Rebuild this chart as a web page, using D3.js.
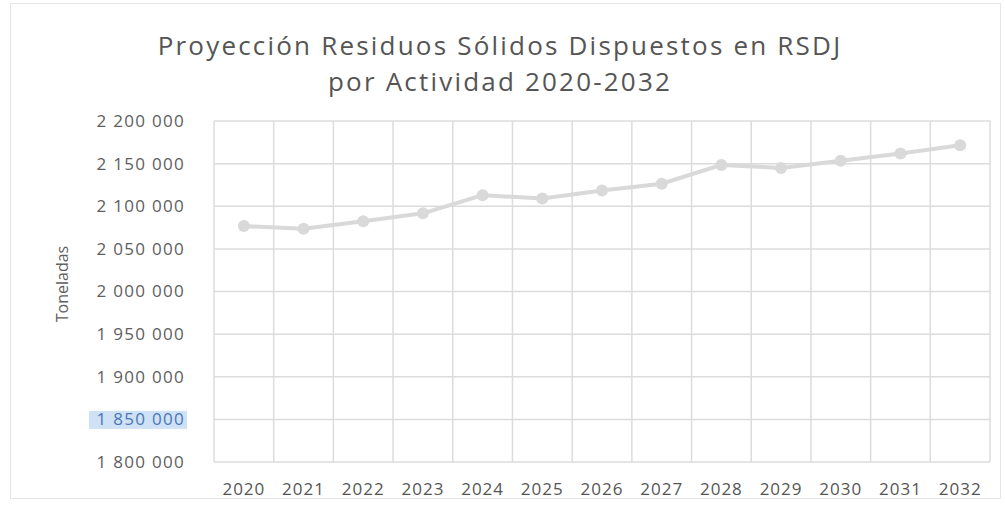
<!DOCTYPE html>
<html>
<head>
<meta charset="utf-8">
<script src="https://cdn.jsdelivr.net/npm/d3@7"></script>
<style>
  body { margin: 0; background: #fff; }
  svg text { font-family: "Open Sans", sans-serif; }
</style>
</head>
<body>
<svg id="chart" width="1005" height="508"></svg>
<script>
const years = ['2020', '2021', '2022', '2023', '2024', '2025', '2026', '2027', '2028', '2029', '2030', '2031', '2032'];
const tonnes = [2076700, 2073500, 2082300, 2091700, 2113000, 2109000, 2118400, 2126400, 2148500, 2144900, 2153500, 2161800, 2171600];
const yTicks = [1800000, 1850000, 1900000, 1950000, 2000000, 2050000, 2100000, 2150000, 2200000];
const titleLines = ['Proyección Residuos Sólidos Dispuestos en RSDJ', 'por Actividad 2020-2032'];
const highlightedTick = 1850000;

const svg = d3.select('#chart');
const margin = { top: 121, right: 15, bottom: 46, left: 214 };
const width = 1005, height = 508;

const x = d3.scaleBand().domain(years).range([margin.left, width - margin.right]);
const y = d3.scaleLinear().domain([1800000, 2200000]).range([height - margin.bottom, margin.top]);

const fmt = v => d3.format(',')(v).replace(/,/g, ' ');

// outer frame
svg.append('rect')
  .attr('x', 10.5).attr('y', 3.5)
  .attr('width', 990).attr('height', 495)
  .attr('fill', 'none')
  .attr('stroke', '#e6e6e6');

// title
svg.append('g').selectAll('text')
  .data(titleLines)
  .join('text')
  .attr('x', 500)
  .attr('y', (d, i) => 55 + i * 35.5)
  .attr('text-anchor', 'middle')
  .attr('font-size', 26)
  .attr('letter-spacing', 2.2)
  .attr('fill', '#555')
  .text(d => d);

// horizontal grid
svg.append('g').selectAll('line')
  .data(yTicks)
  .join('line')
  .attr('x1', margin.left).attr('x2', width - margin.right)
  .attr('y1', d => y(d)).attr('y2', d => y(d))
  .attr('stroke', '#dcdcdc').attr('stroke-width', 1.5);

// vertical grid at category boundaries
const bounds = years.map(d => x(d)).concat([x.range()[1]]);
svg.append('g').selectAll('line')
  .data(bounds)
  .join('line')
  .attr('x1', d => d).attr('x2', d => d)
  .attr('y1', y(2200000)).attr('y2', y(1800000))
  .attr('stroke', '#dcdcdc').attr('stroke-width', 1.5);

// y tick labels
const yAxis = svg.append('g').attr('transform', `translate(${margin.left - 29},0)`)
  .call(d3.axisLeft(y).tickValues(yTicks).tickFormat(fmt).tickSize(0).tickPadding(0));
yAxis.select('.domain').remove();
yAxis.selectAll('.tick')
  .filter(d => d === highlightedTick)
  .insert('rect', 'text')
  .attr('x', -96).attr('y', -9)
  .attr('width', 98).attr('height', 18)
  .attr('fill', '#cfe1f5');
yAxis.selectAll('text')
  .attr('font-size', 17)
  .attr('letter-spacing', 1.3)
  .attr('font-family', '"Open Sans", sans-serif')
  .attr('fill', d => d === highlightedTick ? '#4a78b5' : '#5e5e5e');

// x tick labels
const xAxis = svg.append('g').attr('transform', `translate(0,${height - margin.bottom})`)
  .call(d3.axisBottom(x).tickSize(0).tickPadding(21));
xAxis.select('.domain').remove();
xAxis.selectAll('text')
  .attr('font-size', 17)
  .attr('letter-spacing', 1)
  .attr('font-family', '"Open Sans", sans-serif')
  .attr('fill', '#555');

// y axis title
svg.append('text')
  .attr('transform', 'translate(68,284) rotate(-90)')
  .attr('text-anchor', 'middle')
  .attr('font-size', 16)
  .attr('fill', '#5e5e5e')
  .text('Toneladas');

// series line
const cx = d => x(d) + x.bandwidth() / 2;
svg.append('path')
  .datum(years)
  .attr('fill', 'none')
  .attr('stroke', '#d9d9d9')
  .attr('stroke-width', 4)
  .attr('stroke-linejoin', 'round')
  .attr('d', d3.line().x(d => cx(d)).y((d, i) => y(tonnes[i])));

svg.append('g').selectAll('circle')
  .data(years)
  .join('circle')
  .attr('cx', d => cx(d))
  .attr('cy', (d, i) => y(tonnes[i]))
  .attr('r', 6)
  .attr('fill', '#d9d9d9');
</script>
</body>
</html>
